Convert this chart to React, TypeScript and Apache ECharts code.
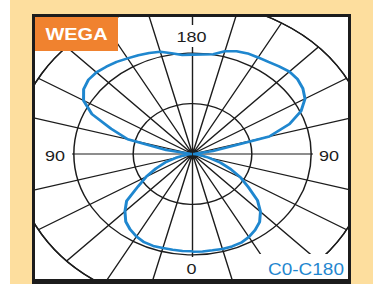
import React, { useEffect, useRef } from "react";
import * as echarts from "echarts";

// Polar luminous intensity diagram (gamma angle from nadir, 5° steps)
const GAMMA = [0, 5, 10, 15, 20, 25, 30, 35, 40, 45, 50, 55, 60, 65, 70, 75, 80, 85, 90,
  95, 100, 105, 110, 115, 120, 125, 130, 135, 140, 145, 150, 155, 160, 165, 170, 175, 180];
// C0 plane (right half)
const C0 = [194, 194, 194, 195, 195, 194, 190, 184, 176, 162, 143, 115, 94, 71, 50, 28, 14, 6, 1,
  4, 35, 134, 174, 202, 219, 227, 231, 231, 227, 223, 221, 220, 217, 211, 201, 198, 197];
// C180 plane (left half)
const C180 = [193, 193, 193, 193, 194, 193, 189, 183, 175, 161, 145, 112, 90, 68, 49, 29, 14, 6, 1,
  4, 45, 113, 146, 187, 212, 224, 229, 229, 226, 223, 219, 216, 213, 210, 203, 197, 197];
const RING_MAX = 300;
const RING_STEP = 100;
const SPOKE_STEP = 15;
const TITLE = "WEGA";
const PLANE = "C0-C180";
const LABEL_TOP = "180";
const LABEL_BOTTOM = "0";
const LABEL_SIDE = "90";

const W = 376;
const H = 284;
const SQ = 0.85;
const HU = H / SQ;
const u = (y: number) => y / SQ;
const CX = 192.5;
const CY = u(154);
const R = 178;
const BG = "#FDDE9E";
const INK = "#1c1c1c";
const BLUE = "#1F87CF";
const FONT = "'Liberation Sans', Arial, Helvetica, sans-serif";

export default function App() {
  const ref = useRef<HTMLDivElement>(null);
  useEffect(() => {
    if (!ref.current) return;
    const chart = echarts.init(ref.current, null, { renderer: "svg" });
    const right = GAMMA.map((g, i) => [C0[i], 360 - g]);
    const left = GAMMA.map((g, i) => [C180[i], g]).reverse();
    const data = right.concat(left);
    const rect = (x: number, y1: number, w: number, y2: number, fill: string, z: number) => ({
      type: "rect", z, shape: { x, y: u(y1), width: w, height: u(y2) - u(y1) }, style: { fill },
    });
    const text = (t: string, x: number, y: number, size: number, fill: string, align = "center", weight = "normal") => ({
      type: "text", z: 80, x, y: u(y),
      style: { text: t, fill, font: `${weight} ${size}px ${FONT}`, align, verticalAlign: "middle" },
    });
    chart.setOption({
      animation: false,
      backgroundColor: "#ffffff",
      polar: { center: [CX, CY], radius: R },
      angleAxis: {
        type: "value", min: 0, max: 360, interval: SPOKE_STEP, startAngle: 270, clockwise: true,
        axisLine: { show: true, lineStyle: { color: INK, width: 1.5 } },
        axisTick: { show: false }, axisLabel: { show: false },
        splitLine: { show: true, lineStyle: { color: INK, width: 1.4 } },
      },
      radiusAxis: {
        type: "value", min: 0, max: RING_MAX, interval: RING_STEP,
        axisLine: { show: false }, axisTick: { show: false }, axisLabel: { show: false },
        splitLine: { show: true, lineStyle: { color: INK, width: 1.5 } },
      },
      series: [{
        type: "line", coordinateSystem: "polar", data, showSymbol: false, symbol: "none",
        lineStyle: { color: BLUE, width: 3 }, z: 5,
      }],
      graphic: [
        // outside of frame
        rect(0, 0, W, 17, BG, 50),
        rect(0, 279, W, 284 / 1, BG, 50),
        rect(0, 0, 35, H, BG, 50),
        rect(348, 0, 28, H, BG, 50),
        rect(0, 0, 10, H, "#ffffff", 51),
        rect(373, 0, 3, H, "#ffffff", 51),
        // frame
        rect(32, 14, 3, 284, INK, 60),
        rect(348, 14, 3, 284, INK, 60),
        rect(32, 14, 319, 17, INK, 60),
        rect(32, 279, 319, 284, INK, 60),
        // label backgrounds
        rect(35, 17, 83, 51, "#F0822F", 65),
        rect(176, 25, 31, 47, "#ffffff", 65),
        rect(35, 147, 37, 163, "#ffffff", 65),
        rect(313, 147, 35, 163, "#ffffff", 65),
        rect(181, 257, 22, 279, "#ffffff", 65),
        rect(255, 254, 93, 279, "#ffffff", 65),
        // texts
        text(TITLE, 76.5, 34.5, 20, "#ffffff", "center", "bold"),
        text(LABEL_TOP, 191.5, 36.5, 18, INK),
        text(LABEL_SIDE, 55, 155.5, 18, INK),
        text(LABEL_SIDE, 329, 155.5, 18, INK),
        text(LABEL_BOTTOM, 191.5, 268.5, 18, INK),
        text(PLANE, 344, 269.5, 19, BLUE, "right"),
      ],
    });
    return () => chart.dispose();
  }, []);
  return (
    <div style={{ position: "absolute", left: 0, top: 0, width: W, height: H, overflow: "hidden", background: "#fff" }}>
      <div ref={ref} style={{ width: W, height: HU, transform: `scaleY(${SQ})`, transformOrigin: "0 0" }} />
    </div>
  );
}
